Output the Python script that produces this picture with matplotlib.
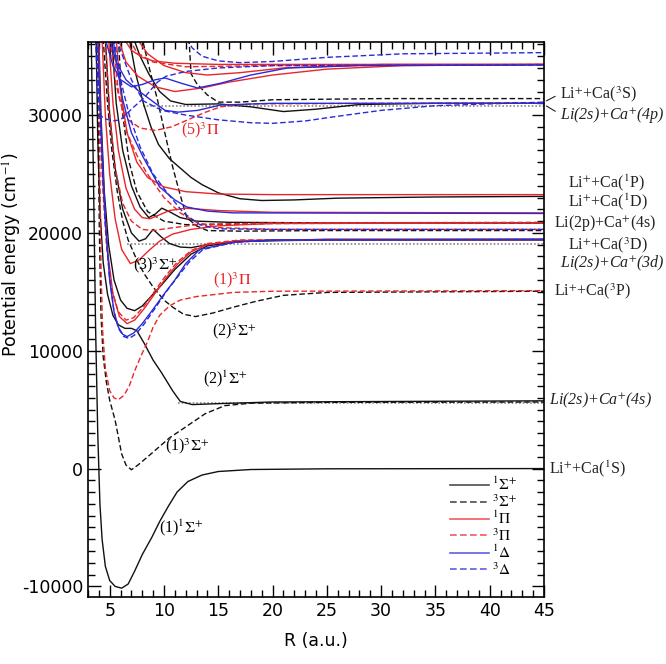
import matplotlib
matplotlib.use("Agg")
import matplotlib.pyplot as plt
from matplotlib.lines import Line2D
from matplotlib.ticker import MultipleLocator

plt.rcParams['mathtext.fontset'] = 'stix'
plt.rcParams['axes.unicode_minus'] = False

# ---- potential curves: R (a.u.), E (cm^-1) ----
# 1Sigma+ (black solid)
r_s1 = [3.3, 3.5, 3.7, 3.9, 4.1, 4.3, 4.6, 5.0, 5.5, 6.1, 6.7, 7.3, 8.0, 8.9, 9.6, 10.4, 11.2, 12.2, 13.5, 15, 18, 25, 45]
e_s1 = [36500, 25000, 12000, 3000, -3000, -6000, -8300, -9500, -10000, -10150, -9800, -8700, -7300, -5800, -4500, -3200, -2000, -1100, -550, -250, -80, -20, 0]
r_s2 = [3.75, 3.9, 4.1, 4.4, 4.8, 5.3, 5.8, 6.4, 7.0, 7.5, 8.2, 9.0, 9.8, 10.8, 11.5, 12.6, 15, 20, 45]
e_s2 = [36500, 28000, 22000, 17500, 14800, 13000, 12200, 11900, 11900, 11700, 10600, 9200, 8100, 6600, 5700, 5430, 5510, 5650, 5750]
r_s3 = [4.0, 4.2, 4.5, 4.9, 5.4, 6.0, 6.6, 7.3, 8.0, 8.8, 9.8, 11, 12.5, 14, 17, 25, 45]
e_s3 = [36500, 30000, 23500, 19000, 16000, 14300, 13600, 13400, 13800, 14600, 15600, 16900, 18200, 18900, 19300, 19450, 19450]
r_s4 = [4.6, 5.0, 5.5, 6.2, 7.0, 7.7, 8.3, 9.0, 9.7, 10.5, 11.5, 12.5, 14, 17, 25, 45]
e_s4 = [36500, 30000, 25500, 22000, 20000, 19300, 19500, 20300, 19700, 19100, 18800, 18750, 19000, 19300, 19400, 19400]
r_s5 = [5.2, 5.6, 6.2, 7.0, 7.8, 8.6, 9.2, 9.8, 10.5, 11.5, 13, 16, 25, 45]
e_s5 = [36500, 31000, 27000, 24000, 22200, 21300, 21600, 22100, 21800, 21300, 21000, 20900, 20850, 20850]
r_s6 = [6.8, 7.4, 8.1, 8.8, 9.5, 10.5, 11.5, 12.5, 13.5, 15, 17, 19, 22, 26, 35, 45]
e_s6 = [36500, 33500, 31000, 29000, 27500, 26300, 25500, 24700, 24100, 23400, 22900, 22750, 22800, 22950, 23050, 23100]
r_s7 = [7.2, 7.8, 8.6, 9.6, 10.6, 12, 15, 18, 21, 24, 28, 35, 45]
e_s7 = [36500, 35000, 33500, 32000, 31200, 30900, 30950, 30700, 30300, 30500, 30900, 31000, 31000]

# 3Sigma+ (black dashed)
r_d1 = [3.85, 3.95, 4.05, 4.2, 4.4, 4.7, 5.0, 5.5, 6.1, 6.5, 7.0, 7.6, 8.5, 9.5, 10.5, 11.9, 13.8, 15.6, 18, 25, 45]
e_d1 = [36500, 28000, 20000, 13000, 9500, 7300, 5800, 4100, 1250, 300, -100, 300, 1000, 1800, 2600, 3470, 4660, 5340, 5550, 5620, 5650]
r_d2 = [4.4, 4.8, 5.2, 5.7, 6.2, 6.7, 7.5, 8.2, 9.0, 10, 10.8, 11.8, 12.9, 14.5, 16.4, 18.5, 21, 25, 45]
e_d2 = [36500, 31000, 27000, 23500, 21000, 19400, 17700, 16500, 15400, 14300, 13700, 13100, 12900, 13200, 13700, 14200, 14700, 14950, 15050]
r_d3 = [7.4, 8.1, 8.7, 9.4, 10.1, 10.8, 11.5, 12.1, 13, 14, 17, 25, 45]
e_d3 = [36500, 36100, 33800, 31300, 28400, 25600, 23200, 21300, 20600, 20200, 20150, 20200, 20200]
r_d4 = [12.3, 12.4, 12.5, 13, 14, 15, 17, 20, 30, 45]
e_d4 = [36500, 35000, 33500, 32700, 31700, 31100, 31100, 31300, 31400, 31400]
r_d5 = [5.8, 6.2, 6.8, 7.5, 8.5, 10, 12, 20, 45]
e_d5 = [36500, 30000, 26000, 23500, 21800, 21000, 20700, 20800, 20850]

# 1Pi (red solid)
r_p1 = [3.95, 4.15, 4.4, 4.8, 5.3, 5.9, 6.6, 7.3, 8.2, 9.2, 10.2, 11.3, 12.5, 14, 17, 25, 45]
e_p1 = [36500, 30000, 24000, 18500, 14800, 12900, 12300, 12600, 13600, 14900, 16200, 17400, 18400, 19000, 19350, 19450, 19450]
r_p2 = [4.3, 4.6, 5.0, 5.5, 6.1, 6.9, 7.7, 8.6, 9.6, 10.8, 12.5, 15, 20, 45]
e_p2 = [36500, 30000, 25000, 21200, 18600, 17400, 17700, 18500, 19300, 19900, 20300, 20600, 20800, 20850]
r_p3 = [4.9, 5.3, 5.8, 6.5, 7.3, 8.0, 8.7, 9.5, 10.5, 12, 15, 20, 45]
e_p3 = [36500, 31000, 27000, 23800, 22000, 21300, 21200, 21500, 21900, 22100, 21900, 21750, 21700]
r_p4 = [5.6, 6.0, 6.6, 7.5, 8.5, 10, 12, 15, 20, 45]
e_p4 = [36500, 32000, 28500, 26000, 24700, 23900, 23500, 23300, 23250, 23250]
r_p5 = [6.3, 7.0, 8.0, 9.0, 11, 15, 45]
e_p5 = [36500, 35500, 34900, 34600, 34400, 34300, 34300]
r_p6 = [7.5, 8.5, 10, 12, 14, 17, 21, 30, 45]
e_p6 = [36500, 35200, 34200, 33600, 33400, 33600, 34000, 34300, 34300]
r_p7 = [5.8, 6.5, 7.6, 9.2, 11, 13.5, 16, 20, 25, 32, 45]
e_p7 = [36500, 34500, 33300, 32400, 32000, 32300, 32800, 33400, 33900, 34200, 34300]

# 3Pi (red dashed)
r_q1 = [4.0, 4.1, 4.2, 4.35, 4.6, 5.0, 5.4, 5.8, 6.3, 6.8, 7.3, 8.0, 8.5, 9.0, 9.6, 10.5, 11.5, 13, 16.4, 20, 45]
e_q1 = [36500, 25000, 17000, 11700, 8500, 6600, 6000, 5850, 6200, 7000, 8300, 9800, 10800, 12000, 13000, 13800, 14300, 14600, 14950, 15050, 15100]
r_q2 = [3.9, 4.1, 4.35, 4.7, 5.2, 5.8, 6.5, 7.2, 8.1, 9.1, 10.1, 11.2, 12.5, 14, 17, 45]
e_q2 = [36500, 30000, 24000, 19000, 15200, 13300, 12600, 12800, 13700, 15000, 16300, 17500, 18500, 19100, 19400, 19450]
r_q3 = [5.3, 5.8, 6.6, 7.5, 8.4, 10, 11.5, 13, 15, 20, 45]
e_q3 = [36500, 32000, 28500, 26600, 25100, 23000, 21700, 20900, 20450, 20300, 20300]
r_q4 = [4.6, 5.0, 5.5, 6.2, 7.0, 8.0, 9.0, 10.5, 13, 20, 45]
e_q4 = [36500, 30000, 25500, 22500, 21000, 20300, 20200, 20400, 20700, 20850, 20900]
r_q5 = [5.0, 5.5, 6.0, 6.7, 7.8, 9.2, 10.7, 12.2, 13.7, 15.2, 18, 45]
e_q5 = [36500, 33000, 31000, 29600, 28900, 28700, 29000, 29600, 30200, 30700, 30950, 31050]
r_q6 = [6.8, 7.5, 9, 12, 20, 45]
e_q6 = [36500, 35300, 34500, 34100, 34200, 34300]

# 1Delta (blue solid)
r_b1 = [3.9, 4.1, 4.3, 4.6, 5.0, 5.4, 5.8, 6.2, 6.6, 7.2, 8.0, 8.9, 10, 11, 12, 13.3, 16.4, 20, 45]
e_b1 = [36500, 31000, 27000, 21000, 16000, 13300, 12000, 11400, 11200, 11500, 12300, 13400, 14800, 16000, 17400, 18600, 19200, 19400, 19450]
r_b2 = [5.3, 5.7, 6.2, 7.0, 8.1, 9.6, 11, 12.1, 14, 16.4, 45]
e_b2 = [36500, 34000, 31300, 28500, 26400, 23900, 22800, 22200, 21850, 21700, 21650]
r_b3 = [4.6, 4.8, 5.3, 6.0, 7.0, 8.0, 9.2, 10.1, 11.6, 13.1, 15.2, 18, 21.4, 28, 45]
e_b3 = [36500, 35800, 34200, 33000, 32400, 32600, 33000, 33150, 32700, 32300, 32700, 33400, 34000, 34200, 34250]
r_b4 = [5.0, 5.6, 6.5, 7.6, 9.2, 10.1, 11.3, 13.1, 15.2, 20, 45]
e_b4 = [36500, 34500, 33000, 32100, 31000, 30400, 30250, 30400, 30850, 31000, 31000]

# 3Delta (blue dashed)
r_c1 = [3.85, 4.05, 4.25, 4.55, 4.95, 5.4, 5.8, 6.3, 6.8, 7.4, 8.2, 9.1, 10.2, 11.2, 12.3, 13.6, 16.5, 20, 45]
e_c1 = [36500, 31000, 27000, 21500, 16500, 13300, 11900, 11200, 11050, 11400, 12300, 13500, 15000, 16200, 17500, 18600, 19200, 19400, 19450]
r_c2 = [5.4, 6.0, 6.8, 7.8, 9, 10.3, 11.8, 13.3, 15, 20, 45]
e_c2 = [36500, 33000, 30000, 27300, 25000, 23400, 21700, 20700, 20350, 20300, 20300]
r_c3 = [12.1, 12.6, 13.5, 15, 17, 20, 25, 32, 45]
e_c3 = [36500, 35700, 35000, 34600, 34450, 34550, 34900, 35200, 35300]
r_c4 = [5.6, 6.2, 7.0, 8.1, 9.8, 12, 15, 18, 20, 23, 26, 30, 35, 45]
e_c4 = [36500, 35000, 33000, 31200, 30400, 30000, 29600, 29350, 29300, 29500, 29900, 30400, 30800, 31100]
r_c5 = [3.7, 3.9, 4.1, 4.5, 5.3, 6.0, 7.0, 8.2, 9.4, 10.2, 12, 15, 20, 45]
e_c5 = [36500, 32000, 30000, 29700, 29500, 29600, 30500, 31500, 32800, 33300, 33700, 34000, 34200, 34250]

# asymptote markers (dotted): start R, energy
dot_start = [11.3, 6.6, 8.1]
dot_level = [5600, 19050, 30800]

# dissociation-limit labels at the right edge (italic ones are Li + Ca+ limits)
limit_text = [r"Li$^{+}$+Ca($^{3}$S)", r"Li(2s)+Ca$^{+}$(4p)",
              r"Li$^{+}$+Ca($^{1}$P)", r"Li$^{+}$+Ca($^{1}$D)",
              r"Li(2p)+Ca$^{+}$(4s)", r"Li$^{+}$+Ca($^{3}$D)",
              r"Li(2s)+Ca$^{+}$(3d)", r"Li$^{+}$+Ca($^{3}$P)",
              r"Li(2s)+Ca$^{+}$(4s)", r"Li$^{+}$+Ca($^{1}$S)"]
limit_y = [31800, 30000, 24300, 22650, 20800, 18950, 17450, 15100, 5750, 0]
limit_x = [1.035, 1.035, 1.053, 1.053, 1.022, 1.053, 1.035, 1.022, 1.01, 1.01]
limit_italic = [False, True, False, False, False, False, True, False, True, False]

# state labels on curves
state_text = [r"(1)$^{1}\Sigma^{+}$", r"(1)$^{3}\Sigma^{+}$", r"(2)$^{1}\Sigma^{+}$",
              r"(2)$^{3}\Sigma^{+}$", r"(3)$^{3}\Sigma^{+}$", r"(1)$^{3}\Pi$", r"(5)$^{3}\Pi$"]
state_r = [11.6, 12.1, 15.6, 16.5, 9.2, 16.3, 13.3]
state_e = [-5000, 1950, 7600, 11700, 17300, 16000, 28700]
state_color = ['k', 'k', 'k', 'k', 'k', '#e8262a', '#e8262a']

BLACK, RED, BLUE = '#111111', '#e8262a', '#2a2ad8'
styles = {
    '1S': dict(color=BLACK, ls='-'),
    '3S': dict(color=BLACK, ls=(0, (4, 2))),
    '1P': dict(color=RED, ls='-'),
    '3P': dict(color=RED, ls=(0, (4, 2))),
    '1D': dict(color=BLUE, ls='-'),
    '3D': dict(color=BLUE, ls=(0, (4, 2))),
}
curves = [
    ('1S', r_s1, e_s1), ('1S', r_s2, e_s2), ('1S', r_s3, e_s3), ('1S', r_s4, e_s4),
    ('1S', r_s5, e_s5), ('1S', r_s6, e_s6), ('1S', r_s7, e_s7),
    ('3S', r_d1, e_d1), ('3S', r_d2, e_d2), ('3S', r_d3, e_d3), ('3S', r_d4, e_d4), ('3S', r_d5, e_d5),
    ('1P', r_p1, e_p1), ('1P', r_p2, e_p2), ('1P', r_p3, e_p3), ('1P', r_p4, e_p4),
    ('1P', r_p5, e_p5), ('1P', r_p6, e_p6), ('1P', r_p7, e_p7),
    ('3P', r_q1, e_q1), ('3P', r_q2, e_q2), ('3P', r_q3, e_q3), ('3P', r_q4, e_q4),
    ('3P', r_q5, e_q5), ('3P', r_q6, e_q6),
    ('1D', r_b1, e_b1), ('1D', r_b2, e_b2), ('1D', r_b3, e_b3), ('1D', r_b4, e_b4),
    ('3D', r_c1, e_c1), ('3D', r_c2, e_c2), ('3D', r_c3, e_c3), ('3D', r_c4, e_c4), ('3D', r_c5, e_c5),
]

fig = plt.figure(figsize=(6.66, 6.64), dpi=100)
ax = fig.add_axes([0.1321, 0.1009, 0.6847, 0.8358])

for x0, lev in zip(dot_start, dot_level):
    ax.plot([x0, 45], [lev, lev], color='#888888', ls=(0, (1, 1.2)), lw=1.2)

for key, r, e in curves:
    ax.plot(r, e, lw=1.0, **styles[key])

ax.set_xlim(3, 45)
ax.set_ylim(-10900, 36200)
ax.xaxis.set_major_locator(MultipleLocator(5))
ax.xaxis.set_minor_locator(MultipleLocator(1))
ax.yaxis.set_major_locator(MultipleLocator(10000))
ax.yaxis.set_minor_locator(MultipleLocator(1000))
ax.tick_params(which='both', direction='in', top=True, right=True, labelsize=12.5, width=1.0)
ax.tick_params(which='major', length=9)
ax.tick_params(which='minor', length=5)
for s in ax.spines.values():
    s.set_linewidth(1.2)
ax.set_xlabel("R (a.u.)", fontsize=12.5)
ax.set_ylabel("Potential energy (cm$^{-1}$)", fontsize=12.5)
ax.xaxis.set_label_coords(0.5, -0.063)
ax.yaxis.set_label_coords(-0.14, 0.616)

tr = ax.get_yaxis_transform()
for txt, y, x, it in zip(limit_text, limit_y, limit_x, limit_italic):
    ax.text(x, y, txt, transform=tr, ha='left', va='center', fontsize=11.5,
            family='Liberation Serif', style='italic' if it else 'normal',
            clip_on=False, color='#222222')
ax.annotate('', xy=(1.0, 31100), xycoords=tr, xytext=(1.03, 31700), textcoords=tr,
            arrowprops=dict(arrowstyle='-', lw=0.8, color='#222222'))
ax.annotate('', xy=(1.0, 30900), xycoords=tr, xytext=(1.03, 30200), textcoords=tr,
            arrowprops=dict(arrowstyle='-', lw=0.8, color='#222222'))

for txt, r, e, c in zip(state_text, state_r, state_e, state_color):
    ax.text(r, e, txt, ha='center', va='center', fontsize=11.5, family='Liberation Serif',
            color=c, zorder=5)

handles = [Line2D([], [], lw=1.2, **styles[k]) for k in ['1S', '3S', '1P', '3P', '1D', '3D']]
labels = [r"$^{1}\Sigma^{+}$", r"$^{3}\Sigma^{+}$", r"$^{1}\Pi$", r"$^{3}\Pi$",
          r"$^{1}\Delta$", r"$^{3}\Delta$"]
leg = ax.legend(handles, labels, loc='lower right', bbox_to_anchor=(0.97, 0.01), frameon=False,
                fontsize=11, handlelength=2.5, handletextpad=0.2, labelspacing=0.0,
                borderaxespad=0.5)
for t in leg.get_lines():
    t.set_alpha(0.75)

fig.savefig("out.png", dpi=100)
